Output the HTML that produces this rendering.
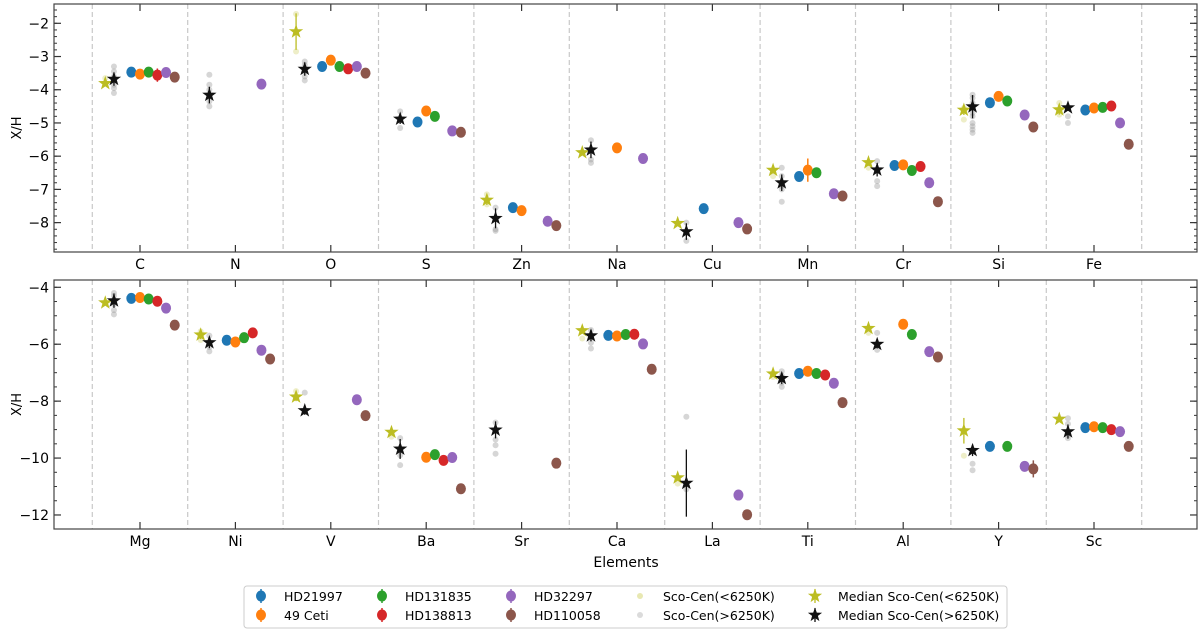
<!DOCTYPE html>
<html><head><meta charset="utf-8">
<style>
html,body{margin:0;padding:0;background:#fff;}
svg{display:block;font-family:"DejaVu Sans","Liberation Sans",sans-serif;}
</style></head>
<body>
<svg id="chart" width="1200" height="630" viewBox="0 0 1200 630" xmlns="http://www.w3.org/2000/svg">
<rect width="1200" height="630" fill="#fff"/>
<g id="top-panel"></g>
<g id="bottom-panel"></g>
<text x="626" y="567" font-size="14" text-anchor="middle">Elements</text>
<g id="legend"></g>
</svg>
<script>
const NS='http://www.w3.org/2000/svg';
// ---------- data ----------
const elementsTop=['C','N','O','S','Zn','Na','Cu','Mn','Cr','Si','Fe'];
const elementsBot=['Mg','Ni','V','Ba','Sr','Ca','La','Ti','Al','Y','Sc'];
const seriesNames=['HD21997','49 Ceti','HD131835','HD138813','HD32297','HD110058'];
const hd21997Top=[-3.47,null,-3.30,-4.97,-7.55,null,-7.58,-6.61,-6.28,-4.39,-4.61];
const ceti49Top=[-3.53,null,-3.11,-4.64,-7.64,-5.75,null,-6.42,-6.26,-4.20,-4.55];
const hd131835Top=[-3.47,null,-3.30,-4.80,null,null,null,-6.50,-6.43,-4.34,-4.53];
const hd138813Top=[-3.56,null,-3.37,null,null,null,null,null,-6.31,null,-4.49];
const hd32297Top=[-3.48,-3.83,-3.30,-5.24,-7.96,-6.07,-8.00,-7.13,-6.80,-4.76,-5.00];
const hd110058Top=[-3.62,null,-3.50,-5.28,-8.09,null,-8.19,-7.20,-7.37,-5.12,-5.64];
const medLowTop=[-3.81,null,-2.25,null,-7.32,-5.89,-8.02,-6.42,-6.19,-4.61,-4.60];
const medLowErrTop=[0.05,0,0.55,0,0.15,0,0,0.1,0.1,0.15,0.15];
const medHighTop=[-3.68,-4.16,-3.38,-4.88,-7.87,-5.81,-8.27,-6.80,-6.41,-4.51,-4.54];
const medHighErrTop=[0.2,0.25,0.2,0.15,0.3,0.25,0.25,0.25,0.2,0.35,0.1];
const scoLowTop=[[-3.65],[],[-1.72,-2.85],[],[-7.15,-7.45],[],[],[-6.6],[-6.35],[-4.9,-4.55],[-4.4,-4.75]];
const scoHighTop=[[-3.3,-3.45,-3.6,-3.7,-3.85,-3.95,-4.1],[-3.55,-3.85,-4.0,-4.35,-4.5],[-3.15,-3.25,-3.45,-3.6,-3.72],[-4.65,-5.15],[-7.55,-8.2,-8.25],[-5.52,-6.1,-6.2],[-8.0,-8.55],[-6.35,-6.6,-6.9,-7.0,-7.37],[-6.15,-6.75,-6.9],[-4.15,-4.25,-4.4,-4.7,-4.8,-5.0,-5.1,-5.2,-5.3],[-4.8,-5.0]];
const hd21997Bot=[-4.39,-5.86,null,null,null,-5.69,null,-7.03,null,-9.59,-8.93];
const ceti49Bot=[-4.36,-5.92,null,-9.97,null,-5.71,null,-6.95,-5.30,null,-8.90];
const hd131835Bot=[-4.41,-5.77,null,-9.88,null,-5.66,null,-7.03,-5.66,-9.59,-8.93];
const hd138813Bot=[-4.49,-5.60,null,-10.08,null,-5.65,null,-7.08,null,null,-9.00];
const hd32297Bot=[-4.73,-6.21,-7.95,-9.98,null,-5.99,-11.30,-7.37,-6.26,-10.29,-9.07];
const hd110058Bot=[-5.33,-6.52,-8.51,-11.08,-10.18,-6.88,-11.99,-8.05,-6.45,-10.38,-9.59];
const medLowBot=[-4.54,-5.67,-7.85,-9.09,null,-5.52,-10.69,-7.04,-5.44,-9.04,-8.63];
const medLowErrBot=[0.05,0.15,0.15,0.1,0,0.05,0.05,0.05,0.05,0.45,0.05];
const medHighBot=[-4.47,-5.94,-8.33,-9.68,-9.01,-5.70,-10.88,-7.20,-6.00,-9.73,-9.07];
const medHighErrBot=[0.25,0.2,0.15,0.35,0.3,0.2,1.18,0.2,0.15,0.2,0.25];
const scoLowBot=[[],[-5.55,-5.85],[-7.65],[-9.25],[],[-5.8],[-10.9],[-7.15],[-5.6],[-9.92],[]];
const scoHighBot=[[-4.2,-4.3,-4.6,-4.8,-4.95],[-5.7,-6.1,-6.25],[-7.7],[-9.3,-9.9,-10.25],[-8.75,-9.35,-9.55,-9.85],[-5.5,-5.95,-6.15],[-8.55,-11.1],[-6.95,-7.1,-7.35,-7.5],[-5.6,-6.2],[-10.2,-10.43],[-8.6,-8.8,-9.2,-9.3]];
const yTicksTop=[-2,-3,-4,-5,-6,-7,-8];
const yTicksBot=[-4,-6,-8,-10,-12];
// ---------- helpers ----------
const colors=['#1f77b4','#ff7f0e','#2ca02c','#d62728','#9467bd','#8c564b'];
function mk(tag,attrs,parent){const e=document.createElementNS(NS,tag);for(const k in attrs)e.setAttribute(k,attrs[k]);parent.appendChild(e);return e;}
function starPts(cx,cy,R,r){let p=[];for(let i=0;i<10;i++){const a=-Math.PI/2+i*Math.PI/5;const rr=i%2?r:R;p.push((cx+rr*Math.cos(a)).toFixed(1)+','+(cy+rr*Math.sin(a)).toFixed(1));}return p.join(' ');}
const X0=54,X1=1197;
function xS(i){return 140+95.4*i;}
function drawPanel(g,cfg){
  const yS=v=>cfg.y0+(cfg.v0-v)*cfg.unit;
  for(let i=-1;i<cfg.cats.length;i++){
    const l=mk('line',{x1:xS(i+0.5),x2:xS(i+0.5),y1:cfg.top,y2:cfg.bot,stroke:'#c8c8c8','stroke-width':1.2,'stroke-dasharray':'5,3'},g);
    
    
  }
  const vTop=cfg.v0+(cfg.y0-cfg.top)/cfg.unit, vBot=cfg.v0-(cfg.bot-cfg.y0)/cfg.unit;
  for(let v=Math.ceil(vBot/cfg.minor)*cfg.minor;v<=vTop+1e-9;v+=cfg.minor){
    const y=yS(v);
    mk('line',{x1:X0,x2:X0+3,y1:y,y2:y,stroke:'#333','stroke-width':1},g);
    mk('line',{x1:X1,x2:X1-3,y1:y,y2:y,stroke:'#333','stroke-width':1},g);
  }
  cfg.ticks.forEach(v=>{const y=yS(v);
    mk('line',{x1:X0,x2:X0+7,y1:y,y2:y,stroke:'#333','stroke-width':1.2},g);
    mk('line',{x1:X1,x2:X1-7,y1:y,y2:y,stroke:'#333','stroke-width':1.2},g);
    const t=mk('text',{x:X0-5,y:y+5,'font-size':14,'text-anchor':'end'},g);t.textContent=(v<0?'\u2212':'')+Math.abs(v);
    
    
  });
  cfg.cats.forEach((c,i)=>{const x=xS(i);
    mk('line',{x1:x,x2:x,y1:cfg.bot,y2:cfg.bot-7,stroke:'#333','stroke-width':1.2},g);
    mk('line',{x1:x,x2:x,y1:cfg.top,y2:cfg.top+7,stroke:'#333','stroke-width':1.2},g);
    const t=mk('text',{x:x,y:cfg.bot+17,'font-size':14,'text-anchor':'middle'},g);t.textContent=c;
    
    
  });
  const yl=mk('text',{x:0,y:0,'font-size':13,'text-anchor':'middle',transform:`translate(21,${(cfg.top+cfg.bot)/2}) rotate(-90)`},g);yl.textContent='X/H';
  
  
  const off=0.091;
  cfg.scoLow.forEach((arr,i)=>arr.forEach(v=>{const c=mk('circle',{cx:xS(i-4*off),cy:yS(v),r:3,fill:'#bcbd22','fill-opacity':0.25},g);
    
    }));
  cfg.scoHigh.forEach((arr,i)=>arr.forEach(v=>{const c=mk('circle',{cx:xS(i-3*off),cy:yS(v),r:3,fill:'#999','fill-opacity':0.4},g);
    
    }));
  cfg.series.forEach((arr,s)=>arr.forEach((v,i)=>{if(v===null)return;
    const x=xS(i+(s-1)*off),y=yS(v);const e=(cfg.errs[s]&&cfg.errs[s][i])||0;
    if(e>0)mk('line',{x1:x,x2:x,y1:yS(v+e),y2:yS(v-e),stroke:colors[s],'stroke-width':1.5},g);
    const c=mk('ellipse',{cx:x,cy:y,rx:5,ry:5.5,fill:colors[s]},g);
    
    
  }));
  [[cfg.medLow,cfg.medLowErr,'#bcbd22',-4],[cfg.medHigh,cfg.medHighErr,'#111',-3]].forEach(([arr,err,col,o])=>arr.forEach((v,i)=>{if(v===null)return;
    const x=xS(i+o*off),y=yS(v);
    if(err[i]>0)mk('line',{x1:x,x2:x,y1:yS(v+err[i]),y2:yS(v-err[i]),stroke:col,'stroke-width':1.3},g);
    const p=mk('polygon',{points:starPts(x,y,7.5,3),fill:col},g);
    
    
  }));
  const fr=mk('rect',{x:X0,y:cfg.top,width:X1-X0,height:cfg.bot-cfg.top,fill:'none',stroke:'#444','stroke-width':1.2},g);
  
  
}
drawPanel(document.getElementById('top-panel'),{cats:elementsTop,top:4,bot:252,y0:23.3,v0:-2,unit:33.22,minor:0.2,ticks:yTicksTop,
  series:[hd21997Top,ceti49Top,hd131835Top,hd138813Top,hd32297Top,hd110058Top],
  errs:[[0,0,0,0,0,0,0,0,0,0.08,0],[0,0,0,0,0,0,0,0.35,0,0.1,0],[0,0,0,0,0,0,0,0.1,0.15,0,0],[0.2,0,0,0,0,0,0,0,0.12,0,0],[],[0,0,0,0,0,0,0,0,0.15,0,0]],
  medLow:medLowTop,medLowErr:medLowErrTop,medHigh:medHighTop,medHighErr:medHighErrTop,scoLow:scoLowTop,scoHigh:scoHighTop});
drawPanel(document.getElementById('bottom-panel'),{cats:elementsBot,top:280,bot:529,y0:287.3,v0:-4,unit:28.46,minor:0.5,ticks:yTicksBot,
  series:[hd21997Bot,ceti49Bot,hd131835Bot,hd138813Bot,hd32297Bot,hd110058Bot],
  errs:[[0,0.15,0,0,0,0,0,0,0,0.15,0],[0.15,0,0,0,0,0,0,0,0,0,0],[0,0.12,0,0,0,0,0,0.1,0,0,0],[0,0,0,0.15,0,0,0,0,0,0,0],[],[0,0,0,0,0,0,0,0,0,0.3,0]],
  medLow:medLowBot,medLowErr:medLowErrBot,medHigh:medHighBot,medHighErr:medHighErrBot,scoLow:scoLowBot,scoHigh:scoHighBot});
const lg=document.getElementById('legend');
const box=mk('rect',{x:244,y:586,width:763,height:42,rx:3,fill:'#fff',stroke:'#ccc','stroke-width':1},lg);


const legItems=[
 [261,596,'dot',colors[0],'HD21997'],[261,615,'dot',colors[1],'49 Ceti'],
 [382,596,'dot',colors[2],'HD131835'],[382,615,'dot',colors[3],'HD138813'],
 [511,596,'dot',colors[4],'HD32297'],[511,615,'dot',colors[5],'HD110058'],
 [640,596,'small','#bcbd22','Sco-Cen(<6250K)'],[640,615,'small','#999','Sco-Cen(>6250K)'],
 [815,596,'star','#bcbd22','Median Sco-Cen(<6250K)'],[815,615,'star','#111','Median Sco-Cen(>6250K)']];
legItems.forEach(([x,y,kind,col,label])=>{
  const g=mk('g',{},lg);
  
  
  if(kind==='dot'){mk('line',{x1:x,x2:x,y1:y-7,y2:y+7,stroke:col,'stroke-width':1.5},g);mk('ellipse',{cx:x,cy:y,rx:5,ry:5.5,fill:col},g);}
  else if(kind==='small'){mk('circle',{cx:x,cy:y,r:3,fill:col,'fill-opacity':0.35},g);}
  else{mk('line',{x1:x,x2:x,y1:y-7,y2:y+7,stroke:col,'stroke-width':1.3},g);mk('polygon',{points:starPts(x,y,7.5,3),fill:col},g);}
  const t=mk('text',{x:x+23,y:y+5,'font-size':12.5},g);t.textContent=label;
});
</script>
</body></html>
